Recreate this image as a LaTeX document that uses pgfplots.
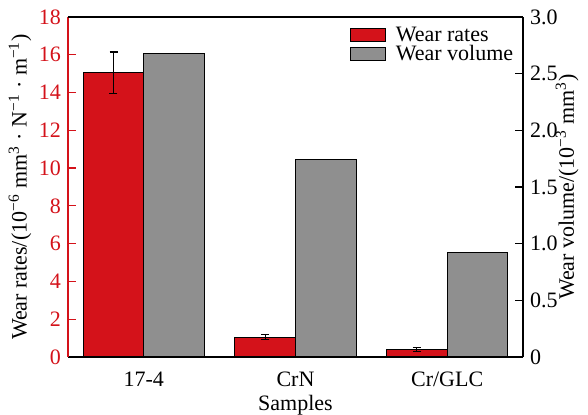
\documentclass[border=0pt]{standalone}
\usepackage{fontspec}
\setmainfont{Liberation Serif}
\newfontfamily\tnr{Liberation Serif}
\usepackage{pgfplots}
\pgfplotsset{compat=1.18}
\definecolor{myred}{RGB}{212,18,26}
\definecolor{mygray}{RGB}{143,143,143}
\begin{document}
\begin{tikzpicture}[font=\tnr]
\pgfplotsset{
  common/.style={
    at={(0,0)}, anchor=south west, scale only axis,
    width=227.5pt, height=170pt,
    xmin=-0.5, xmax=2.5,
    font=\tnr\fontsize{11}{13}\selectfont,
    /pgf/number format/assume math mode=true,
    tick align=inside, major tick length=4pt,
    axis line style={-, line width=0.6pt},
    xtick style={draw=none},
    ybar, bar width=0.4,
  },
}
\begin{axis}[common,
  axis y line*=left, axis x line*=bottom,
  ymin=0, ymax=18, ytick={0,2,...,18},
  xtick={0,1,2}, xticklabels={17-4,CrN,Cr/GLC},
  xticklabel style={inner sep=1pt, yshift=-2.5pt},
  y axis line style={draw=myred},
  ytick style={draw=myred, line width=0.6pt},
  yticklabel style={text=myred},
  ylabel={Wear rates/(10\textsuperscript{−6} mm\textsuperscript{3} · N\textsuperscript{−1} · m\textsuperscript{−1})},
  ylabel style={at={(axis description cs:-0.1055,0.5)}, anchor=center},
  xlabel={Samples},
  xlabel style={at={(axis description cs:0.5,-0.1)}, anchor=north, inner sep=0pt, yshift=-2pt},
]
\addplot[fill=myred, draw=black, line width=0.6pt, bar shift=-0.2,
  error bars/.cd, y dir=both, y explicit,
  error bar style={black, line width=0.6pt},
  error mark options={rotate=90, mark size=2pt, black, line width=0.6pt}]
  coordinates {(0,15.05) +- (0,1.1) (1,1.05) +- (0,0.14) (2,0.40) +- (0,0.12)};
\end{axis}
\begin{axis}[common,
  axis y line*=right, axis x line*=top,
  ymin=0, ymax=3, ytick={0,0.5,...,3.0},
  yticklabels={0,0.5,1.0,1.5,2.0,2.5,3.0},
  xtick=\empty,
  ytick style={draw=black, line width=0.6pt},
  ylabel={Wear volume/(10\textsuperscript{−3} mm\textsuperscript{3})},
  ylabel style={at={(axis description cs:1.097,0.5)}, anchor=center},
  legend style={draw=none, fill=none, at={(axis description cs:0.618,0.975)}, anchor=north west,
    inner sep=0pt, row sep=0pt, nodes={inner sep=0.5pt, text height=7.5pt, text depth=1pt},
    font=\tnr\fontsize{11}{13}\selectfont},
  legend cell align=left,
  legend image code/.code={\draw[#1] (0pt,-3.25pt) rectangle (17.5pt,3.25pt); \path (22pt,0pt);},
]
\addlegendimage{fill=myred, draw=black, line width=0.6pt}
\addlegendentry{Wear rates}
\addplot[fill=mygray, draw=black, line width=0.6pt, bar shift=0.2]
  coordinates {(0,2.68) (1,1.74) (2,0.92)};
\addlegendentry{Wear volume}
\end{axis}
\pgfresetboundingbox
\path[use as bounding box] (-34pt,-29pt) rectangle (260pt,178.5pt);
\end{tikzpicture}
\end{document}
